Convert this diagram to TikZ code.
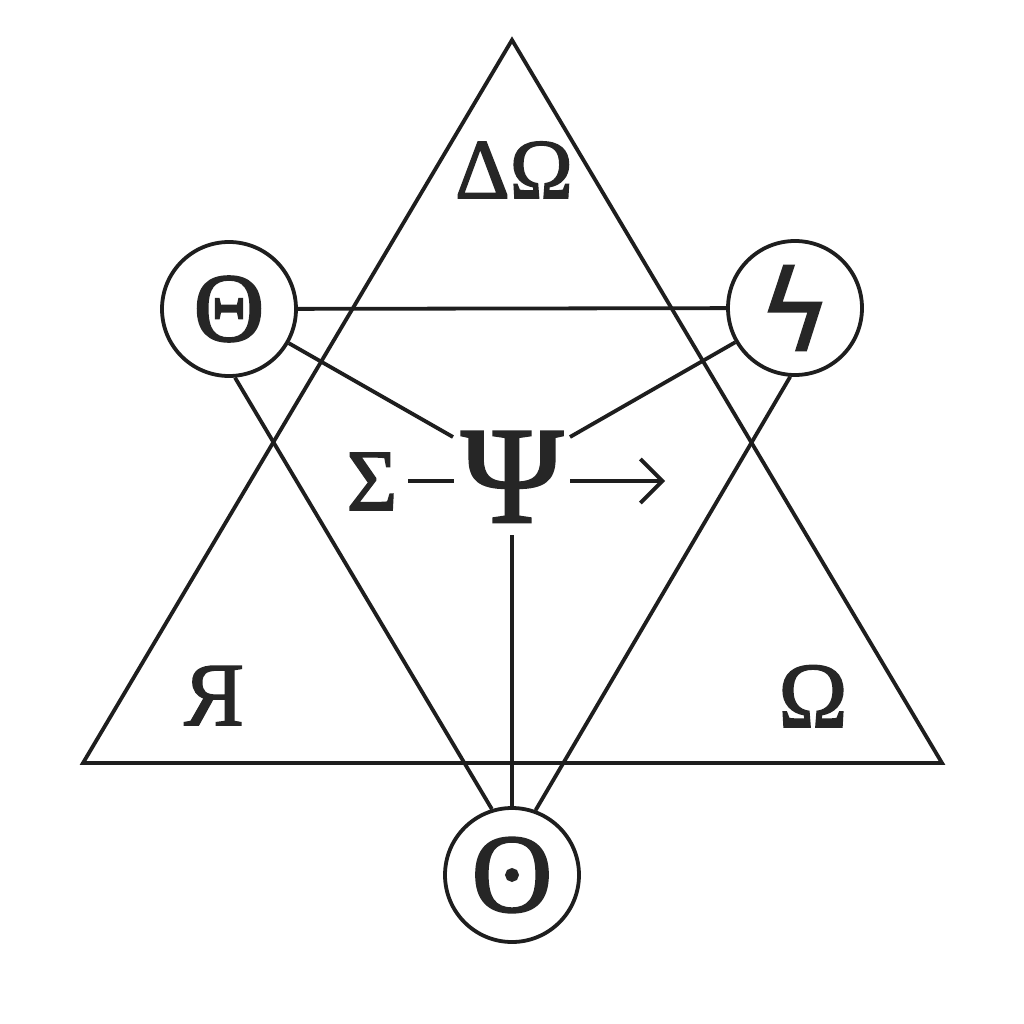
\documentclass[tikz,border=0pt]{standalone}
\usepackage{fontspec}
\setmainfont{Liberation Serif}[FakeBold=1.6]
\newfontfamily\heavy{Liberation Serif}[FakeBold=1.8]
\newfontfamily\symfont{DejaVu Sans}[FakeBold=1.5]
\usetikzlibrary{arrows.meta}
\definecolor{ink}{HTML}{1E1E1E}
\definecolor{txt}{HTML}{262626}
\tikzset{
  ln/.style={draw=ink, line width=3.8pt},
  ring/.style={circle, draw=ink, line width=3.8pt, minimum size=134pt, inner sep=0pt, text=txt, font=\heavy},
  lbl/.style={inner sep=0pt, text=txt, anchor=base, font=\heavy},
}
\newcommand{\fs}[1]{\fontsize{#1}{#1}\selectfont}
\begin{document}
\begin{tikzpicture}[x=1pt,y=-1pt]
\useasboundingbox (0,0) rectangle (1024,1024);
\fill[white] (0,0) rectangle (1024,1024);
% triangle
\coordinate (tA) at (512,40);
\coordinate (tL) at (83,763);
\coordinate (tR) at (942,763);
\draw[ln, line join=miter] (tA) -- (tL) -- (tR) -- cycle;
% circles
\node[ring] (theta) at (229,309) {\fs{98}Θ};
\node[ring] (koppa) at (795,308) {\symfont\fs{112}ϟ};
\node[ring] (sun) at (512,875) {\fs{112}ʘ};
% labels
\node[lbl] (dom) at (514,198) {\fs{85}ΔΩ};
\node[lbl] (ya) at (214,725) {\fs{90}Я};
\node[lbl] (om) at (813,727) {\fs{93}Ω};
\node[lbl] (sig) at (372,510) {\fs{87}Σ};
\node[lbl] (psi) at (512,522) {\fs{138}Ψ};
% connector points
\coordinate (psiL) at (453,437);
\coordinate (psiR) at (570,437);
\coordinate (psiB) at (512,535);
\coordinate (dashA) at (408,481);
\coordinate (dashB) at (454,481);
\coordinate (arrA) at (570,481);
\coordinate (arrB) at (665,481);
% connectors
\draw[ln] (theta) -- (koppa);
\draw[ln] (theta) -- (psiL);
\draw[ln] (koppa) -- (psiR);
\draw[ln] (theta.-85) -- (sun.107);
\draw[ln] (koppa.-94) -- (sun.70);
\draw[ln] (psiB) -- (sun.north);
\draw[ln] (dashA) -- (dashB);
\draw[ln, -{Straight Barb[length=22pt,width=44pt,line width=3.8pt]}] (arrA) -- (arrB);
\end{tikzpicture}
\end{document}
